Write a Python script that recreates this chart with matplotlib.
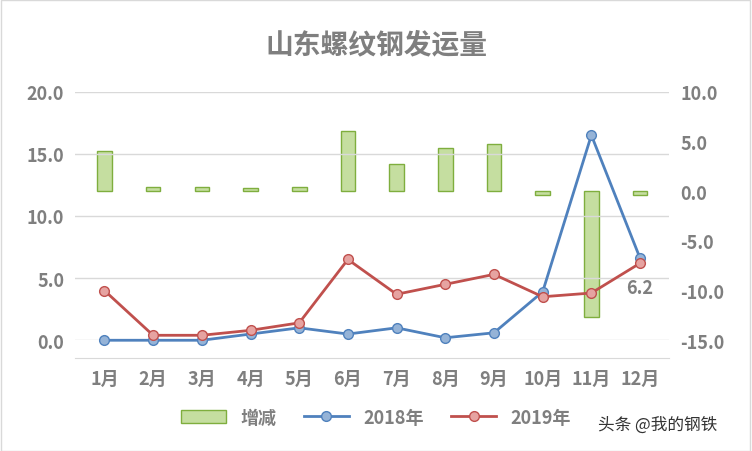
import matplotlib
matplotlib.use("Agg")
import matplotlib.pyplot as plt
import numpy as np

plt.rcParams['font.family'] = ['Noto Sans CJK SC', 'DejaVu Sans']
plt.rcParams['font.weight'] = 'bold'

months = ["1月","2月","3月","4月","5月","6月","7月","8月","9月","10月","11月","12月"]
y2018 = [0.0, 0.0, 0.0, 0.5, 1.0, 0.5, 1.0, 0.2, 0.6, 3.9, 16.5, 6.6]
y2019 = [4.0, 0.4, 0.4, 0.8, 1.4, 6.5, 3.7, 4.5, 5.3, 3.5, 3.8, 6.2]
diff = [4.0, 0.4, 0.4, 0.3, 0.4, 6.0, 2.7, 4.3, 4.7, -0.4, -12.7, -0.4]

gray = "#7f7f7f"
fig = plt.figure(figsize=(7.52, 4.52), dpi=100)
fig.patches.append(plt.Rectangle((0.001, 0.001), 0.997, 0.997, transform=fig.transFigure,
                                 fill=False, edgecolor="#d9d9d9", lw=1))
ax = fig.add_axes([0.1, 0.245, 0.79, 0.55])
ax2 = ax.twinx()
x = np.arange(len(months))

ax2.bar(x, diff, width=0.3, color="#c5dea0", edgecolor="#7fae3e", linewidth=1, label="增减", zorder=1)
ax2.set_ylim(-15, 10)
ax2.set_yticks(np.arange(-15, 10.1, 5))
ax2.set_yticklabels([f"{v:.1f}" for v in np.arange(-15, 10.1, 5)], fontweight="bold")

ax.set_zorder(ax2.get_zorder() + 1)
ax.patch.set_visible(False)
ax.plot(x, y2018, color="#4f81bd", lw=2, marker="o", ms=7, mfc="#95b3d7", mec="#4f81bd", label="2018年", clip_on=False)
ax.plot(x, y2019, color="#c0504d", lw=2, marker="o", ms=7, mfc="#e6a3a1", mec="#c0504d", label="2019年", clip_on=False)
ax.set_ylim(0, 20)
ax.set_yticks(np.arange(0, 20.1, 5))
ax.set_yticklabels([f"{v:.1f}" for v in np.arange(0, 20.1, 5)], fontweight="bold")
ax.set_xlim(-0.6, 11.6)
ax.set_xticks(x)
ax.set_xticklabels(months, fontweight="bold")
ax.yaxis.grid(True, color="#d9d9d9", lw=1)
ax.set_axisbelow(True)
ax.text(11, y2019[11] - 1.2, "6.2", ha="center", va="top", fontsize=13, color=gray, fontweight="bold")

for a in (ax, ax2):
    for s in a.spines.values():
        s.set_visible(False)
    a.tick_params(length=0, labelsize=13, labelcolor=gray, pad=8)
ax.spines['bottom'].set_visible(True)
ax.spines['bottom'].set_color("#d9d9d9")
ax.spines['bottom'].set_position(('data', -1.4))

fig.text(0.5, 0.9, "山东螺纹钢发运量", ha="center", va="center", fontsize=20, color=gray, fontweight="bold")
h1, l1 = ax2.get_legend_handles_labels()
h2, l2 = ax.get_legend_handles_labels()
leg = fig.legend(h1 + h2, l1 + l2, loc="center", bbox_to_anchor=(0.5, 0.075), ncol=3, frameon=False,
                 prop={'size': 13, 'weight': 'bold'}, labelcolor=gray, handlelength=2.5, columnspacing=1.5)
fig.text(0.795, 0.05, "头条 @我的钢铁", fontsize=12, color="#333333", fontweight="normal")
fig.savefig("out.png", dpi=100)
